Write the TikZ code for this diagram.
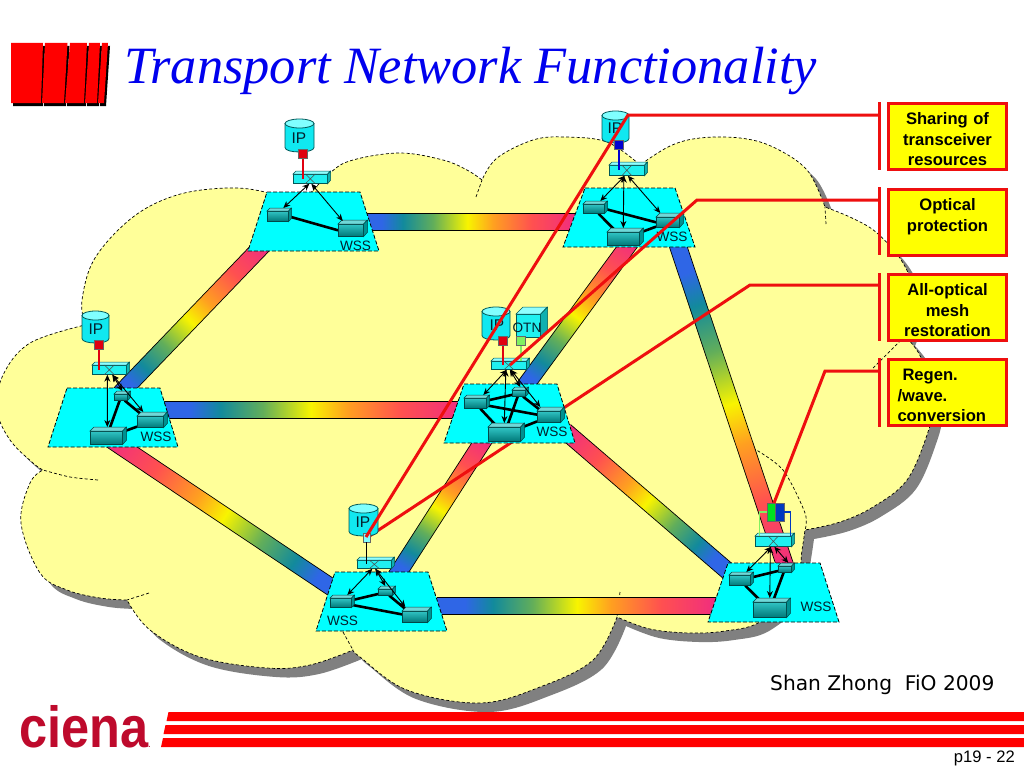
\documentclass[tikz,border=0pt]{standalone}
\usepackage{fontspec}
\usepackage{graphicx}
\setmainfont{Liberation Sans}
\newfontfamily\titlefont{Liberation Serif}
\newfontfamily\djv{DejaVu Sans}
\usetikzlibrary{arrows.meta,calc}
\definecolor{rbA}{HTML}{2F66E6}
\definecolor{rbB}{HTML}{128A9C}
\definecolor{rbC}{HTML}{62AE5A}
\definecolor{rbD}{HTML}{F8F400}
\definecolor{rbE}{HTML}{FFA020}
\definecolor{rbF}{HTML}{FF5050}
\definecolor{rbG}{HTML}{F02C80}
\definecolor{cloudfill}{HTML}{FFFF99}
\definecolor{shadowgrey}{HTML}{808080}
\definecolor{redline}{HTML}{EE0F0F}
\definecolor{inktext}{HTML}{04202C}
\definecolor{platcyan}{HTML}{00FFFF}
\definecolor{boxyellow}{HTML}{FFFF00}
\definecolor{titleblue}{HTML}{0000EE}
\definecolor{puregreen}{HTML}{00E020}
\definecolor{lightgreen}{HTML}{80F060}
\definecolor{sqred}{HTML}{E00010}
\definecolor{sqblue}{HTML}{0000D0}
\definecolor{sixblue}{HTML}{0038C0}
\definecolor{cienared}{HTML}{BE0A2C}
\definecolor{devhi}{HTML}{30C4C4}
\definecolor{devlo}{HTML}{007878}
\definecolor{devtopc}{HTML}{70D8D8}
\definecolor{devsidec}{HTML}{009090}
\definecolor{devline}{HTML}{004848}
\definecolor{xcfill}{HTML}{20F0F0}
\definecolor{xctopc}{HTML}{90FFFF}
\definecolor{xcsidec}{HTML}{10B0B0}
\definecolor{xcline}{HTML}{005858}
\definecolor{cylbody}{HTML}{10E8F0}
\definecolor{cyltop}{HTML}{80FFFF}
\pgfdeclarelayer{base}
\pgfdeclarelayer{wires}
\pgfsetlayers{base,wires,main}
\pgfdeclarehorizontalshading{rblink}{100bp}{color(0bp)=(rbA); color(25bp)=(rbA); color(30bp)=(rbA); color(35bp)=(rbB); color(42bp)=(rbC); color(50bp)=(rbD); color(56bp)=(rbE); color(65bp)=(rbF); color(75bp)=(rbG); color(100bp)=(rbG)}
\tikzset{
  cloudedge/.style={draw=black,line width=.7pt,dash pattern=on 3pt off 2.2pt},
  plat/.style={fill=platcyan,draw=black,line width=.8pt,dash pattern=on 4pt off 2pt},
  devbox/.style={rectangle,inner sep=0pt,draw=devline,line width=.6pt,top color=devhi,bottom color=devlo},
  devtop/.style={fill=devtopc,draw=devline,line width=.5pt},
  devside/.style={fill=devsidec,draw=devline,line width=.5pt},
  xcbox/.style={rectangle,inner sep=0pt,draw=xcline,line width=.7pt,fill=xcfill},
  xctop/.style={fill=xctopc,draw=xcline,line width=.5pt},
  xcside/.style={fill=xcsidec,draw=xcline,line width=.5pt},
  thickln/.style={line width=2.6pt,black},
  biarr/.style={{Stealth[length=7pt,width=6pt]}-{Stealth[length=7pt,width=6pt]},line width=.9pt,black},
  cylbodyst/.style={fill=cylbody,draw=xcline,line width=.8pt},
  cyltopst/.style={fill=cyltop,draw=xcline,line width=.8pt},
  iplab/.style={inner sep=0pt,text=inktext,font=\fontsize{15.5}{16}\selectfont},
  sqn/.style={rectangle,inner sep=0pt,minimum width=9pt,minimum height=9pt,draw=black!60,line width=.5pt},
  wsslab/.style={inner sep=0pt,text=inktext,font=\fontsize{13.6}{14}\selectfont},
  callout/.style={rectangle,draw=redline,line width=3pt,fill=boxyellow,inner xsep=9pt,inner ysep=0pt,text width=100pt,
    font=\bfseries\fontsize{16.6}{20.5}\selectfont,minimum height=66pt},
  redc/.style={redline,line width=3pt},
  bar/.style={redline,line width=3pt},
}
\makeatletter
\newcommand\rainbowlink[3]{%
  \pgfmathanglebetweenpoints{\pgfpointanchor{#1}{center}}{\pgfpointanchor{#2}{center}}\let\rbang\pgfmathresult
  \pgfpointdiff{\pgfpointanchor{#1}{center}}{\pgfpointanchor{#2}{center}}%
  \pgfmathsetmacro\rblen{veclen(\pgf@x,\pgf@y)}%
  \pgfpointanchor{#1}{center}\pgfgetlastxy{\rbx}{\rby}%
  \begin{scope}[transform canvas={shift={(\rbx,\rby)},rotate=\rbang}]
    \shade[shading=rblink] (0pt,-#3/2) rectangle (\rblen,#3/2);
    \draw[black,line width=.7pt] (0pt,-#3/2) -- (\rblen,-#3/2) (0pt,#3/2) -- (\rblen,#3/2);
  \end{scope}}
\makeatother
% #1 kind, #2 name, #3 x0, #4 y0, #5 x1, #6 y1, #7 depth
\newcommand\threeD[7]{%
  \pgfmathsetmacro\dw{#5-#3-#7}\pgfmathsetmacro\dh{#6-#4-#7}\pgfmathsetmacro\dy{#4+#7}%
  \node[#1box,anchor=north west,minimum width=\dw pt,minimum height=\dh pt] (#2) at (#3,\dy) {};
  \filldraw[#1top] (#2.north west) -- ++(#7,-#7) -- ++(\dw,0) -- (#2.north east) -- cycle;
  \filldraw[#1side] (#2.north east) -- ++(#7,-#7) -- ++(0,\dh) -- (#2.south east) -- cycle;}
\newcommand\xcross[1]{%
  \draw[black!70,line width=.5pt] ([xshift=-5pt]#1.north) -- ([xshift=5pt]#1.south) ([xshift=5pt]#1.north) -- ([xshift=-5pt]#1.south);}
% #1 name, #2 x0, #3 y0, #4 x1, #5 y1, #6 label x, #7 label y
\newcommand\ipcyl[7]{%
  \pgfmathsetmacro\cx{(#2+#4)/2}\pgfmathsetmacro\rx{(#4-#2)/2}\pgfmathsetmacro\ya{#3+4.5}\pgfmathsetmacro\yb{#5-4.5}\pgfmathsetmacro\yc{#5+1.5}%
  \filldraw[cylbodyst] (#2,\ya) -- (#2,\yb) .. controls (#2,\yc) and (#4,\yc) .. (#4,\yb) -- (#4,\ya) -- cycle;
  \filldraw[cyltopst] (\cx,\ya) ellipse [x radius=\rx,y radius=4.5];
  \node[iplab] (#1) at (#6,#7) {IP};}
\newcommand\cloudpath{
  plot[smooth,tension=.6] coordinates {(85,325)(82,300)(95,258)(133,217)(177,195)(227,188)(265,192)(300,205)}
  -- plot[smooth,tension=.6] coordinates {(300,205)(330,173)(353,160)(400,153)(443,160)(467,170)(482,180)}
  -- plot[smooth,tension=.6] coordinates {(482,180)(497,158)(533,140)(565,137)(607,142)(640,165)}
  -- plot[smooth,tension=.6] coordinates {(640,165)(670,146)(700,138)(740,138)(773,147)(807,170)(825,207)}
  -- plot[smooth,tension=.6] coordinates {(825,207)(852,218)(877,233)(903,263)(916,300)(906,337)}
  -- plot[smooth,tension=.6] coordinates {(906,337)(918,352)(928,375)(933,405)(928,432)(907,480)(873,507)(840,522)(805,530)}
  -- plot[smooth,tension=.6] coordinates {(805,530)(802,550)(795,590)(760,622)(725,631)(690,633)(650,629)(617,617)}
  -- plot[smooth,tension=.6] coordinates {(617,617)(593,660)(540,687)(480,703)(407,690)(360,657)(353,650)}
  -- plot[smooth,tension=.6] coordinates {(353,650)(310,665)(267,668)(200,657)(150,630)(127,600)}
  -- plot[smooth,tension=.6] coordinates {(127,600)(100,598)(67,590)(40,573)(21,523)(30,483)(43,470)}
  -- plot[smooth,tension=.6] coordinates {(43,470)(33,463)(10,440)(-3,410)(3,375)(30,343)(85,325)}
  -- cycle}
\begin{document}
\begin{tikzpicture}[x=1pt,y=-1pt]
\useasboundingbox (0,0) rectangle (1024,768);
\begin{pgfonlayer}{base}
\fill[white] (0,0) rectangle (1024,768);
% title logo bars
\begin{scope}[shift={(2,3)}]
\fill[black] (11,43)--(43,43)--(41,103)--(11,103)--cycle (45,43)--(67.5,43)--(64,103)--(42,103)--cycle (70,43)--(87,43)--(84,103)--(65,103)--cycle (89,43)--(100,43)--(97,103)--(85,103)--cycle (102,43)--(108,43)--(104,103)--(98,103)--cycle;
\end{scope}
\fill[red] (11,43)--(43,43)--(41,103)--(11,103)--cycle (45,43)--(67.5,43)--(64,103)--(42,103)--cycle (70,43)--(87,43)--(84,103)--(65,103)--cycle (89,43)--(100,43)--(97,103)--(85,103)--cycle (102,43)--(108,43)--(104,103)--(98,103)--cycle;

% cloud
\fill[shadowgrey,shift={(9,9)}] \cloudpath;
\fill[cloudfill] \cloudpath;
\draw[cloudedge] \cloudpath;
\draw[cloudedge] (476,197) -- (482,180) (826,224) -- (825,207) (873,368) -- (906,335)
  plot[smooth] coordinates {(753,448)(783,470)(805,513)(805,530)}
  (620,592) -- (617,617) (149,593) -- (127,600)
  plot[smooth] coordinates {(98,480)(70,477)(43,470)} (343,632) -- (353,650);

% link ends
\coordinate (l12a) at (360,222); \coordinate (l12b) at (575,222);
\coordinate (l31a) at (115,399); \coordinate (l31b) at (265,243);
\coordinate (l42a) at (520,393); \coordinate (l42b) at (632,240);
\coordinate (l26a) at (676,240); \coordinate (l26b) at (786,568);
\coordinate (l34a) at (160,410); \coordinate (l34b) at (462,410);
\coordinate (l53a) at (340,593); \coordinate (l53b) at (110,439);
\coordinate (l54a) at (393,581); \coordinate (l54b) at (485,438);
\coordinate (l64a) at (730,573); \coordinate (l64b) at (565,431);
\coordinate (l56a) at (437,605.5); \coordinate (l56b) at (717,605.5);
\rainbowlink{l12a}{l12b}{17pt}
\rainbowlink{l31a}{l31b}{17pt}
\rainbowlink{l42a}{l42b}{17pt}
\rainbowlink{l26a}{l26b}{17pt}
\rainbowlink{l34a}{l34b}{17pt}
\rainbowlink{l53a}{l53b}{17pt}
\rainbowlink{l54a}{l54b}{17pt}
\rainbowlink{l64a}{l64b}{17pt}
\rainbowlink{l56a}{l56b}{17pt}

% callout 3 runs behind the central platform
\coordinate (b3m) at (879,285); \coordinate (c3turn) at (750,285); \coordinate (c3end) at (368,537);
\draw[redc] (b3m) -- (c3turn) -- (c3end);

% platforms
\draw[plat] (267,192)--(360,192)--(379,251)--(248,251)--cycle;
\draw[plat] (585,188)--(675,188)--(695,247)--(563,247)--cycle;
\draw[plat] (67,388)--(160,388)--(178,447)--(48,447)--cycle;
\draw[plat] (464,384)--(557,384)--(575,443)--(444,443)--cycle;
\draw[plat] (335,572)--(428,572)--(447,631)--(316,631)--cycle;
\draw[plat] (728,563)--(820,563)--(839,622)--(708,622)--cycle;
\end{pgfonlayer}

\node[anchor=base west,inner sep=0pt,text=titleblue,font=\titlefont\itshape\fontsize{52.4}{52}\selectfont] (title) at (124,83) {Transport Network Functionality};

% ---- node 1
\threeD{dev}{a1}{267}{208}{291}{221}{3}
\threeD{dev}{b1}{338}{220}{367}{236}{4}
\threeD{xc}{x1}{293}{171}{330}{183}{3}
\begin{pgfonlayer}{wires}\draw[thickln] (a1.east) -- (b1.west);\end{pgfonlayer}
\xcross{x1}
\draw[biarr] ([xshift=-1pt]x1.south) -- ([shift={(5.5,-3)}]a1.north);
\draw[biarr] ([xshift=1pt]x1.south) -- ([shift={(-8,-3)}]b1.north);
\ipcyl{ip1}{285}{119}{314}{152}{299}{138}
\node[sqn,fill=sqred] (s1) at (303,154) {};
\draw[sqred,line width=1.8pt] (s1.south) -- (s1.south |- x1.center);
\node[wsslab] (w1) at (355.5,245.5) {WSS};

% ---- node 2
\threeD{dev}{a2}{583}{201}{607}{213}{3}
\threeD{dev}{r2}{656}{213}{683}{227}{4}
\threeD{dev}{c2}{607}{228}{643}{245}{4}
\begin{pgfonlayer}{wires}\draw[thickln] (a2.east) -- (r2.west) (a2) -- (c2) (c2) -- (r2);\end{pgfonlayer}
\threeD{xc}{x2}{609}{162}{647}{175}{3}
\xcross{x2}
\draw[biarr] ([xshift=-2pt]x2.south) -- ([shift={(6.5,-3)}]a2.north);
\draw[biarr] ([xshift=1pt]x2.south) -- ([shift={(-7.5,-4)}]r2.north);
\draw[biarr] ([xshift=-3pt]x2.south) -- ([shift={(0,-4)}]c2.north);
\ipcyl{ip2}{602}{111}{629}{143}{615}{128}
\node[sqn,fill=sqblue] (s2) at (619,145) {};
\draw[sqblue,line width=2.2pt] (s2.south) -- (s2.south |- x2.center);
\node[wsslab] (w2) at (672,237) {WSS};

% ---- node 3
\threeD{dev}{s3}{114}{391}{130}{400}{3}
\threeD{dev}{r3}{137}{412}{167}{427}{4}
\threeD{dev}{c3}{90}{427}{126}{444}{4}
\begin{pgfonlayer}{wires}\draw[thickln] (s3) -- (r3) (s3) -- (c3) (c3) -- (r3);\end{pgfonlayer}
\threeD{xc}{x3}{92}{362}{129}{374}{3}
\xcross{x3}
\draw[biarr] ([xshift=-2pt]x3.south) -- ([shift={(1,-4)}]c3.north);
\draw[biarr] ([xshift=3pt]x3.south) -- ([shift={(-7,-4)}]r3.north);
\draw[biarr] ([xshift=3pt]x3.south) -- ([shift={(1.5,-3)}]s3.north);
\ipcyl{ip3}{82}{311}{109}{343}{96}{329}
\node[sqn,fill=sqred] (ss3) at (99,345) {};
\draw[sqred,line width=1.8pt] (ss3.south) -- (ss3.south |- x3.center);
\node[wsslab] (w3) at (156,437) {WSS};

% ---- node 4
\threeD{dev}{a4}{464}{395}{489}{408}{3}
\threeD{dev}{s4}{512}{387}{528}{396}{3}
\threeD{dev}{r4}{537}{407}{564}{422}{4}
\threeD{dev}{c4}{488}{423}{524}{441}{4}
\begin{pgfonlayer}{wires}\draw[thickln] (a4) -- (s4) (a4) -- (r4) (a4) -- (c4) (s4) -- (c4) (s4) -- (r4) (c4) -- (r4);\end{pgfonlayer}
\threeD{xc}{x4}{491}{358}{529}{369}{3}
\xcross{x4}
\draw[biarr] ([xshift=-2pt]x4.south) -- ([shift={(8,-3)}]a4.north);
\draw[biarr] ([xshift=-3pt]x4.south) -- ([shift={(0,-4)}]c4.north);
\draw[biarr] ([xshift=2pt]x4.south) -- ([shift={(-8.5,-4)}]r4.north);
\draw[biarr] ([xshift=1pt]x4.south) -- ([shift={(1.5,-3)}]s4.north);
\ipcyl{ip4}{482}{307}{510}{340}{497}{325}
\threeD{xc}{otn}{516}{307}{547}{337}{7}
\node[inner sep=0pt,text=inktext,font=\fontsize{13.6}{14}\selectfont] (otnl) at (527,328) {OTN};
\node[sqn,fill=sqred] (s4a) at (503,341) {};
\node[sqn,fill=lightgreen] (s4b) at (521,341) {};
\draw[sqred,line width=1.8pt] (s4a.south) -- (s4a.south |- x4.center);
\draw[lightgreen,line width=1.5pt] (s4b.south) -- (s4b.south |- x4.north);
\node[wsslab] (w4) at (552,432) {WSS};

% ---- node 5
\threeD{dev}{a5}{330}{595}{354}{607}{3}
\threeD{dev}{s5}{378}{586}{395}{595}{3}
\threeD{dev}{r5}{402}{607}{431}{622}{4}
\begin{pgfonlayer}{wires}\draw[thickln] (a5) -- (s5) (a5) -- (r5) (s5) -- (r5);\end{pgfonlayer}
\threeD{xc}{x5}{357}{557}{394}{568}{3}
\xcross{x5}
\draw[biarr] ([xshift=-2pt]x5.south) -- ([shift={(6.5,-3)}]a5.north);
\draw[biarr] ([xshift=1pt]x5.south) -- ([shift={(-9.5,-4)}]r5.north);
\draw[biarr] ([xshift=1pt]x5.south) -- ([shift={(0,-3)}]s5.north);
\ipcyl{ip5}{349}{504}{378}{536}{363}{522}
\node[sqn,fill=cyltop,minimum width=7.5pt] (s5a) at (366.5,537.5) {};
\draw[black,line width=1.8pt] (s5a.south) -- (s5a.south |- x5.center);
\node[wsslab] (w5) at (342.5,621) {WSS};

% ---- node 6
\threeD{dev}{a6}{729}{572}{753}{585}{3}
\threeD{dev}{s6}{778}{563}{794}{572}{3}
\threeD{dev}{c6}{753}{598}{790}{617}{4}
\begin{pgfonlayer}{wires}\draw[thickln] (a6) -- (s6) (a6) -- (c6) (s6) -- (c6);\end{pgfonlayer}
\threeD{xc}{x6}{755}{533}{794}{546}{3}
\xcross{x6}
\draw[biarr] ([xshift=-2pt]x6.south) -- ([shift={(6.5,-3)}]a6.north);
\draw[biarr] ([xshift=-3pt]x6.south) -- ([shift={(0,-4)}]c6.north);
\draw[biarr] ([xshift=1pt]x6.south) -- ([shift={(3.5,-3)}]s6.north);
\node[sqn,fill=puregreen,minimum width=8.5pt,minimum height=18pt] (g6) at (771,512) {};
\node[sqn,fill=sixblue,minimum width=9pt,minimum height=18pt] (b6) at (779.5,512) {};
\draw[lightgreen,line width=1.3pt] (g6.west) -| ([xshift=-14pt]x6.north);
\draw[sixblue,line width=1.3pt] (b6.east) -| ([xshift=17pt]x6.north);
\node[wsslab] (w6) at (816,607) {WSS};

% callouts
\node[callout] (k1) at (947.5,136.5) {\centering\rule{0pt}{18pt}Sharing of\\transceiver\\resources\par};
\node[callout] (k2) at (947.5,222) {\centering\rule{0pt}{18pt}Optical\\protection\\\mbox{}\par};
\node[callout] (k3) at (947.5,307.5) {\centering\rule{0pt}{18pt}All-optical\\mesh\\restoration\par};
\node[callout] (k4) at (947.5,392.5) {\rule{0pt}{18pt}\hspace*{5pt}Regen.\\/wave.\\conversion\par};
\coordinate (b1a) at (879,102); \coordinate (b1b) at (879,170);
\coordinate (b2a) at (879,187); \coordinate (b2b) at (879,255);
\coordinate (b3a) at (879,273); \coordinate (b3b) at (879,341);
\coordinate (b4a) at (879,358); \coordinate (b4b) at (879,427);
\draw[bar] (b1a) -- (b1b); \draw[bar] (b2a) -- (b2b); \draw[bar] (b3a) -- (b3b); \draw[bar] (b4a) -- (b4b);
\coordinate (b1m) at (879,115); \coordinate (c1turn) at (628,115); \coordinate (c1end) at (366,537);
\draw[redc] (b1m) -- (c1turn) -- (c1end);
\coordinate (b2m) at (879,200); \coordinate (c2turn) at (697,200); \coordinate (c2end) at (510,365);
\draw[redc] (b2m) -- (c2turn) -- (c2end);
\coordinate (b4m) at (879,371); \coordinate (c4turn) at (825,371); \coordinate (c4end) at (774,503);
\draw[redc] (b4m) -- (c4turn) -- (c4end);

% footer
\node[anchor=base west,inner sep=0pt,font=\djv\fontsize{20.2}{20}\selectfont] (credit) at (770,690) {Shan Zhong\ \ FiO 2009};
\node[anchor=base east,inner sep=0pt,font=\fontsize{16.6}{17}\selectfont] (pg) at (1015,762) {p19 - 22};
\fill[red] (168.5,712)--(1024,712)--(1024,721)--(166.5,721)--cycle;
\fill[red] (165.5,725)--(1024,725)--(1024,734)--(163.5,734)--cycle;
\fill[red] (163,738)--(1024,738)--(1024,747)--(161,747)--cycle;
\node[anchor=base west,inner sep=0pt,text=cienared] (logo) at (19,747) {\scalebox{.87}[1]{\bfseries\fontsize{58}{58}\selectfont ciena}\fontsize{10}{10}\selectfont .};
\end{tikzpicture}
\end{document}
